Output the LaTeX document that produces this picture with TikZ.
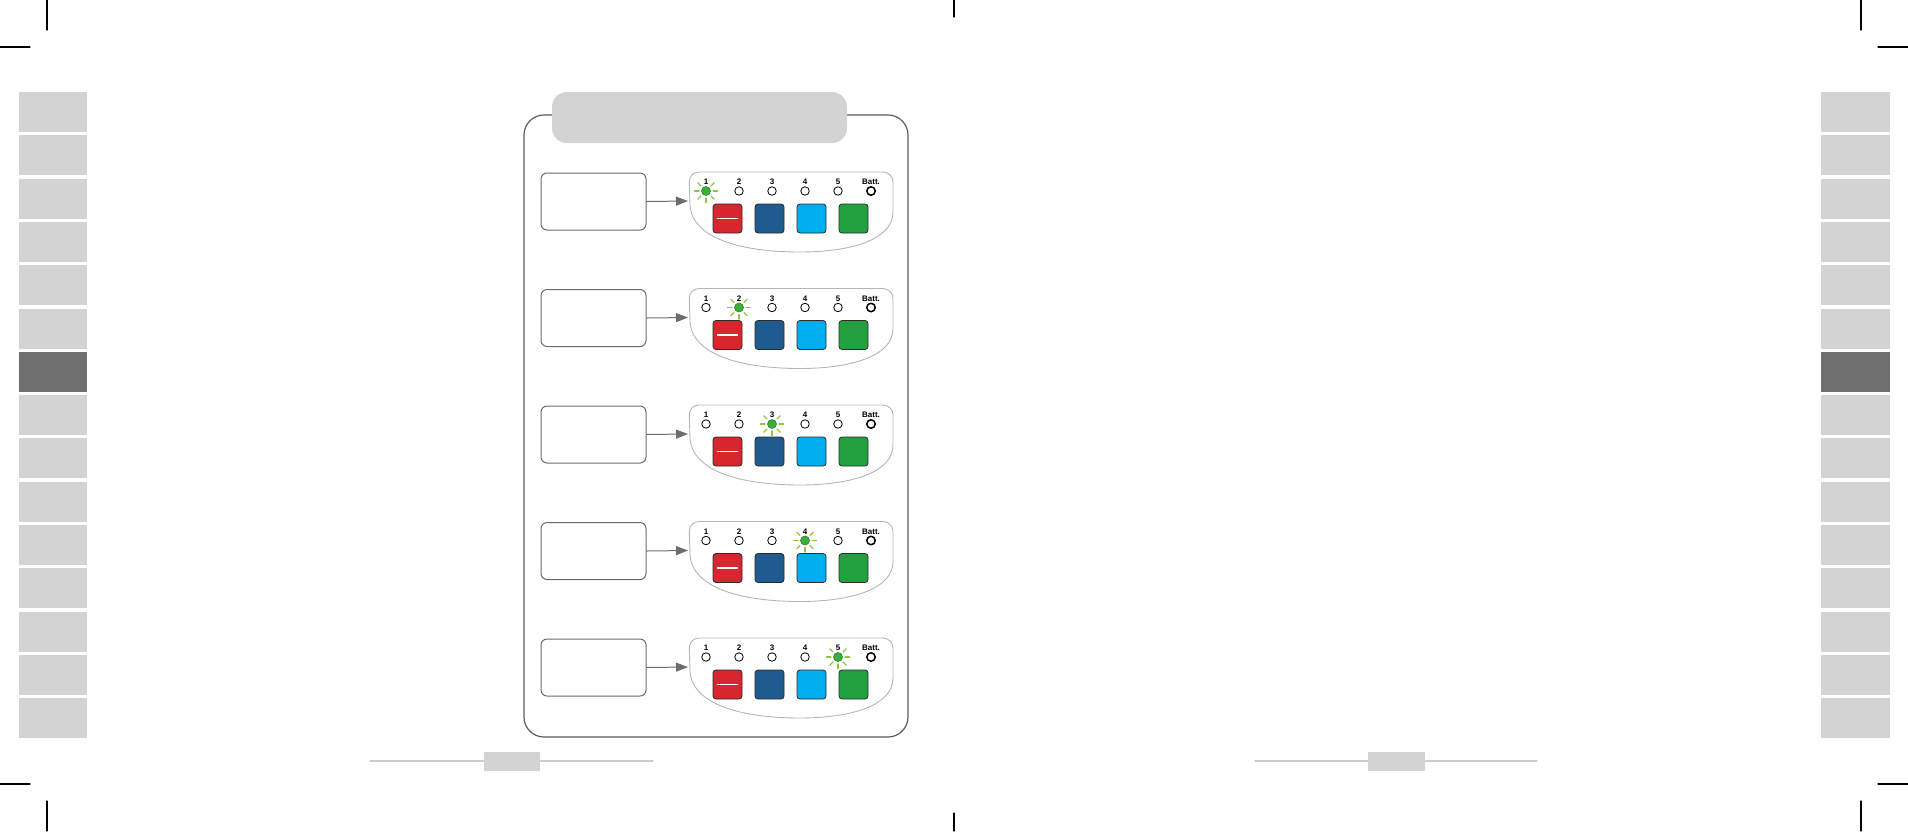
\documentclass[tikz,border=0pt]{standalone}
\usepackage{fontspec}
\setmainfont{Liberation Sans}
\usetikzlibrary{arrows.meta}
\definecolor{tabgray}{HTML}{D3D3D3}
\definecolor{tabdark}{HTML}{706F6F}
\definecolor{panelline}{HTML}{5C5C5C}
\definecolor{boxline}{HTML}{6A6A6A}
\definecolor{arrowgray}{HTML}{6D6D6D}
\definecolor{ledline}{HTML}{B5B5B5}
\definecolor{footline}{HTML}{CCCCCC}
\definecolor{keyred}{HTML}{D7262E}
\definecolor{keyblue}{HTML}{1F5B8E}
\definecolor{keysky}{HTML}{00AEEF}
\definecolor{keygreen}{HTML}{22A03F}
\definecolor{keyline}{HTML}{2B2B2B}
\definecolor{rayg}{HTML}{8CC63F}
\definecolor{ledg}{HTML}{3DAE3A}
\definecolor{ledgd}{HTML}{2A7F2A}
\begin{document}
\begin{tikzpicture}[x=1pt,y=-1pt,line join=round,line cap=round,
	font=\bfseries\fontsize{8}{8}\selectfont,
	crop/.style={black,line width=1.1pt},
	msgbox/.style={draw=boxline,line width=1pt,rounded corners=6pt,minimum width=105pt,minimum height=57pt,inner sep=0pt},
	ledpanel/.style={draw=ledline,line width=0.9pt},
	ledoff/.style={circle,draw=black,line width=0.8pt,fill=white,minimum size=8.5pt,inner sep=0pt},
	ledon/.style={circle,draw=ledgd,line width=0.6pt,fill=ledg,minimum size=9pt,inner sep=0pt},
	ray/.style={rayg,line width=1.2pt},
	key/.style={draw=keyline,line width=0.8pt,rounded corners=3pt,minimum size=29pt,inner sep=0pt},
	flow/.style={draw=arrowgray,line width=1pt,-{Triangle[length=12pt,width=9pt]}}]
	\useasboundingbox (0,0) rectangle (1908,831);
	% crop marks
	\draw[crop] (47,0)--(47,30); \draw[crop] (0,47)--(30,47);
	\draw[crop] (1861,0)--(1861,30); \draw[crop] (1878,47)--(1908,47);
	\draw[crop] (954,0)--(954,17);
	\draw[crop] (0,784)--(30,784); \draw[crop] (47,801)--(47,831);
	\draw[crop] (1878,784)--(1908,784); \draw[crop] (1861,801)--(1861,831);
	\draw[crop] (954,813)--(954,831);
	% side tabs
	\foreach \k in {0,...,14}{
		\fill[tabgray] (19,{92+43.3*\k}) rectangle (87,{132+43.3*\k});
		\fill[tabgray] (1821,{92+43.3*\k}) rectangle (1890,{132+43.3*\k});
	}
	\fill[tabdark] (19,{92+43.3*6}) rectangle (87,{132+43.3*6});
	\fill[tabdark] (1821,{92+43.3*6}) rectangle (1890,{132+43.3*6});
	% page footers
	\draw[footline,line width=1.3pt] (370,761)--(653,761);
	\fill[tabgray] (484,752) rectangle (540,771);
	\draw[footline,line width=1.3pt] (1255,761)--(1537,761);
	\fill[tabgray] (1368,752) rectangle (1425,771);
	% main frame
	\draw[panelline,line width=1.2pt,rounded corners=20pt] (524,115) rectangle (908,737);
	\fill[tabgray,rounded corners=15pt] (552,92) rectangle (847,143);
	% rows
	\foreach \r/\lit in {0/1,1/2,2/3,3/4,4/5}{
		\begin{scope}[shift={(0,{116.5*\r})}]
			\node[msgbox] (box\r) at (593.5,201.5) {};
			\coordinate (ledin\r) at (688,201);
			\draw[flow] (box\r.east) -- (ledin\r);
			\draw[ledpanel] (690,205) [rounded corners=10pt] -- (689,172) -- (893,172) [sharp corners] -- (893,212)
				.. controls (893,240) and (850,252) .. (800,252) .. controls (740,252) and (692,238) .. (690,205);
			\foreach \t [count=\i] in {1,2,3,4,5,Batt.}{
				\node[inner sep=0pt] (num\r\i) at ({706+33*(\i-1)},182) {\t};
			}
			\foreach \i in {1,...,6}{
				\pgfmathsetmacro\lx{706+33*(\i-1)}
				\ifnum\i=\lit
					\foreach \a in {0,45,90,135,180,225,315}
						\draw[ray] ([shift={(\a:7)}]\lx,191) -- ([shift={(\a:11.5)}]\lx,191);
					\node[ledon] (led\r\i) at (\lx,191) {};
				\else
					\ifnum\i=6
						\node[ledoff,line width=1.5pt] (led\r\i) at (\lx,191) {};
					\else
						\node[ledoff] (led\r\i) at (\lx,191) {};
					\fi
				\fi
			}
			\foreach \c [count=\j] in {keyred,keyblue,keysky,keygreen}
				\node[key,fill=\c] (key\r\j) at ({727.5+42*(\j-1)},218.5) {};
			\draw[white,line width=1.2pt] ([xshift=-10pt]key\r1.center) -- ([xshift=10pt]key\r1.center);
		\end{scope}
	}
\end{tikzpicture}
\end{document}
